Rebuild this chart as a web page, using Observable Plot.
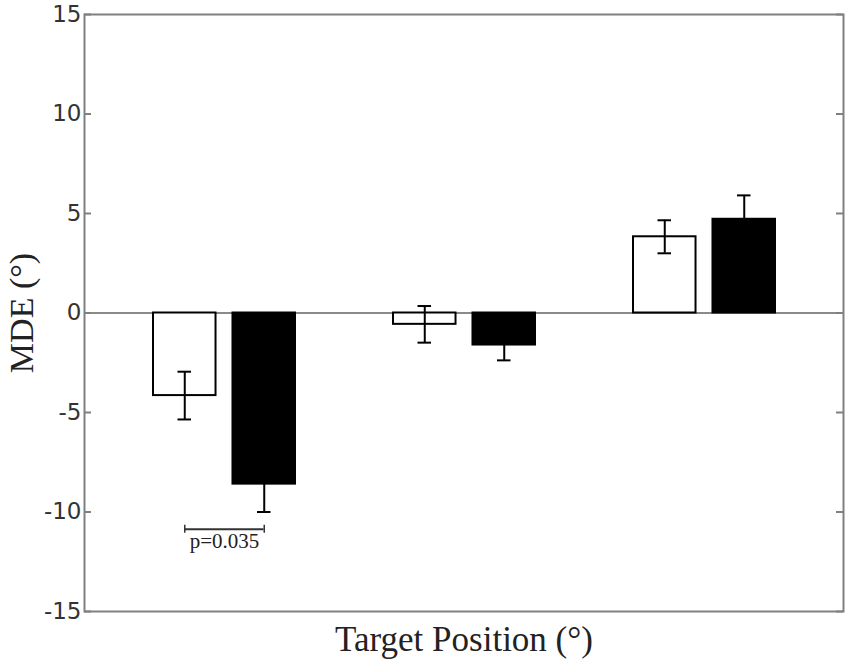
<!DOCTYPE html>
<html><head><meta charset="utf-8">
<script src="https://cdn.jsdelivr.net/npm/d3@7"></script>
<script src="https://cdn.jsdelivr.net/npm/@observablehq/plot@0.6"></script>
<style>body{margin:0;background:#fff}</style>
</head><body><div id="chart"></div>
<script>
// Data
const groups = ["Left", "Center", "Right"];
const whiteMeans = [-4.15, -0.57, 3.83];
const whiteErrors = [1.2, 0.92, 0.83];
const blackMeans = [-8.6, -1.61, 4.71];
const blackErrors = [1.4, 0.77, 1.2];
const yTicks = [-15, -10, -5, 0, 5, 10, 15];
const sigGroup = "Left";
const sigY = -10.87;
const sigLabel = "p=0.035";
const yLabel = "MDE (°)";
const xLabel = "Target Position (°)";

// Layout
const W = 851, H = 669, ml = 84, mr = 8, mt = 14, mb = 58;
const plotW = W - ml - mr;
const pIn = 0.4, pOut = 0.276;
const step = plotW / (groups.length - pIn + 2 * pOut);
const bw = step * (1 - pIn);
const barW = 65;
const off = bw / 2 - barW / 2;   // bar centre offset from band centre
const capHalf = 7;

const white = groups.map((g, i) => ({group: g, v: whiteMeans[i], e: whiteErrors[i]}));
const black = groups.map((g, i) => ({group: g, v: blackMeans[i], e: blackErrors[i]}));
const sig = [{group: sigGroup, y: sigY, label: sigLabel}];

const wc = barW / 2;          // white centre from band left
const bc = bw - barW / 2;     // black centre from band left

const chart = Plot.plot({
  width: W, height: H,
  marginLeft: ml, marginRight: mr, marginTop: mt, marginBottom: mb,
  style: {fontFamily: "DejaVu Sans", background: "#fff"},
  x: {type: "band", domain: groups, paddingInner: pIn, paddingOuter: pOut, axis: null},
  y: {domain: [-15, 15], axis: null},
  marks: [
    Plot.ruleY([0], {stroke: "#8a8a8a", strokeWidth: 2}),
    Plot.barY(white, {x: "group", y: "v", fill: "#fff", stroke: "#000", strokeWidth: 2, insetRight: bw - barW + 1, insetLeft: 1}),
    Plot.barY(black, {x: "group", y: "v", fill: "#000", stroke: "#000", strokeWidth: 2, insetLeft: bw - barW + 1, insetRight: 1}),
    // error bars
    Plot.ruleX(white, {x: "group", y1: d => d.v - d.e, y2: d => d.v + d.e, dx: -off, stroke: "#000", strokeWidth: 2}),
    Plot.ruleX(black, {x: "group", y1: d => d.v - d.e, y2: d => d.v + d.e, dx: off, stroke: "#000", strokeWidth: 2}),
    Plot.tickY(white, {x: "group", y: d => d.v - d.e, insetLeft: wc - capHalf, insetRight: bw - wc - capHalf, stroke: "#000", strokeWidth: 2}),
    Plot.tickY(white, {x: "group", y: d => d.v + d.e, insetLeft: wc - capHalf, insetRight: bw - wc - capHalf, stroke: "#000", strokeWidth: 2}),
    Plot.tickY(black, {x: "group", y: d => d.v - d.e, insetLeft: bc - capHalf, insetRight: bw - bc - capHalf, stroke: "#000", strokeWidth: 2}),
    Plot.tickY(black, {x: "group", y: d => d.v + d.e, insetLeft: bc - capHalf, insetRight: bw - bc - capHalf, stroke: "#000", strokeWidth: 2}),
    // significance bracket
    Plot.tickY(sig, {x: "group", y: "y", insetLeft: wc, insetRight: bw - bc, stroke: "#333", strokeWidth: 2}),
    Plot.ruleX(sig, {x: "group", y1: "y", y2: "y", dx: -off, insetTop: -4, insetBottom: -4, stroke: "#333", strokeWidth: 1.5}),
    Plot.ruleX(sig, {x: "group", y1: "y", y2: "y", dx: off, insetTop: -4, insetBottom: -4, stroke: "#333", strokeWidth: 1.5}),
    Plot.text(sig, {x: "group", y: "y", text: "label", dy: 12, fontFamily: "Liberation Serif", fontSize: 21, fill: "#222"}),
    // frame and inward ticks
    Plot.frame({stroke: "#808080", strokeWidth: 2}),
    Plot.ruleY(yTicks, {y: d => d, insetRight: plotW - 7, stroke: "#808080", strokeWidth: 2}),
    Plot.ruleY(yTicks, {y: d => d, insetLeft: plotW - 7, stroke: "#808080", strokeWidth: 2}),
    Plot.axisY({ticks: yTicks, tickSize: 0, tickPadding: 3, tickFormat: d => `${d}`, label: null, fontSize: 23, fontFamily: "DejaVu Sans", fill: "#333"}),
    // axis titles
    Plot.text([yLabel], {text: d => d, frameAnchor: "left", textAnchor: "middle", rotate: -90, dx: -62, fontFamily: "Liberation Serif", fontSize: 34, fill: "#222"}),
    Plot.text([xLabel], {text: d => d, frameAnchor: "bottom", textAnchor: "middle", dy: 39, fontFamily: "Liberation Serif", fontSize: 35, fill: "#222"})
  ]
});
document.getElementById("chart").appendChild(chart);
</script>
</body></html>
